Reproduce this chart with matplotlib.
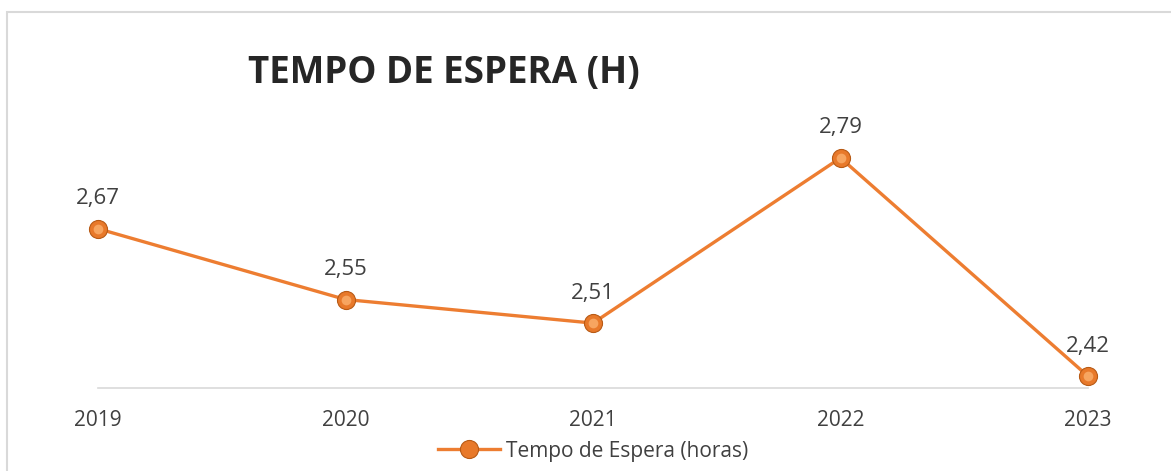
import matplotlib.pyplot as plt
from matplotlib.patches import Rectangle

anos = ["2019", "2020", "2021", "2022", "2023"]
tempo = [2.67, 2.55, 2.51, 2.79, 2.42]

laranja = "#ED7D31"
cinza_txt = "#404040"

plt.rcParams["font.family"] = ["Open Sans", "DejaVu Sans"]

fig = plt.figure(figsize=(11.71, 4.71), dpi=100)
ax = fig.add_axes([98 / 1171, 1 - 388 / 471, 990 / 1171, 295 / 471])

x = list(range(len(anos)))
ax.plot(x, tempo, color=laranja, lw=2.4, zorder=2, label="Tempo de Espera (horas)",
        marker="o", markersize=13, markerfacecolor="#E8792A", markeredgecolor="#B85A15",
        markeredgewidth=0.8, clip_on=False)
# brilho do marcador
ax.plot(x, tempo, ls="none", marker="o", markersize=7, markerfacecolor="#F7A560",
        markeredgecolor="none", zorder=3, clip_on=False)

for xi, v in zip(x, tempo):
    ax.annotate(f"{v:.2f}".replace(".", ","), (xi, v), xytext=(0, 14),
                textcoords="offset points", ha="center", va="bottom",
                fontsize=16, color=cinza_txt)

ax.set_xlim(0, len(anos) - 1)
ax.set_ylim(2.4, 2.9)
ax.set_yticks([])
ax.set_xticks(x)
ax.set_xticklabels(anos, fontsize=15, color=cinza_txt)
ax.tick_params(axis="x", length=0, pad=16)
for s in ["top", "right", "left"]:
    ax.spines[s].set_visible(False)
ax.spines["bottom"].set_color("#D9D9D9")
ax.spines["bottom"].set_linewidth(1.2)
ax.patch.set_alpha(0)

fig.text(444 / 1171, 1 - 73 / 471, "TEMPO DE ESPERA (H)", ha="center", va="center",
         fontsize=26.5, fontweight="bold", color="#262626")

fig.legend(loc="center", bbox_to_anchor=(593 / 1171, 1 - 451 / 471), frameon=False,
           fontsize=15, labelcolor=cinza_txt, handlelength=3.0, handletextpad=0.3)

fig.patches.append(Rectangle((7 / 1171, -0.1), 1.2, 1.1 - 12 / 471, transform=fig.transFigure,
                             fill=False, edgecolor="#D9D9D9", lw=1.5))

fig.savefig("out.png", dpi=100)
